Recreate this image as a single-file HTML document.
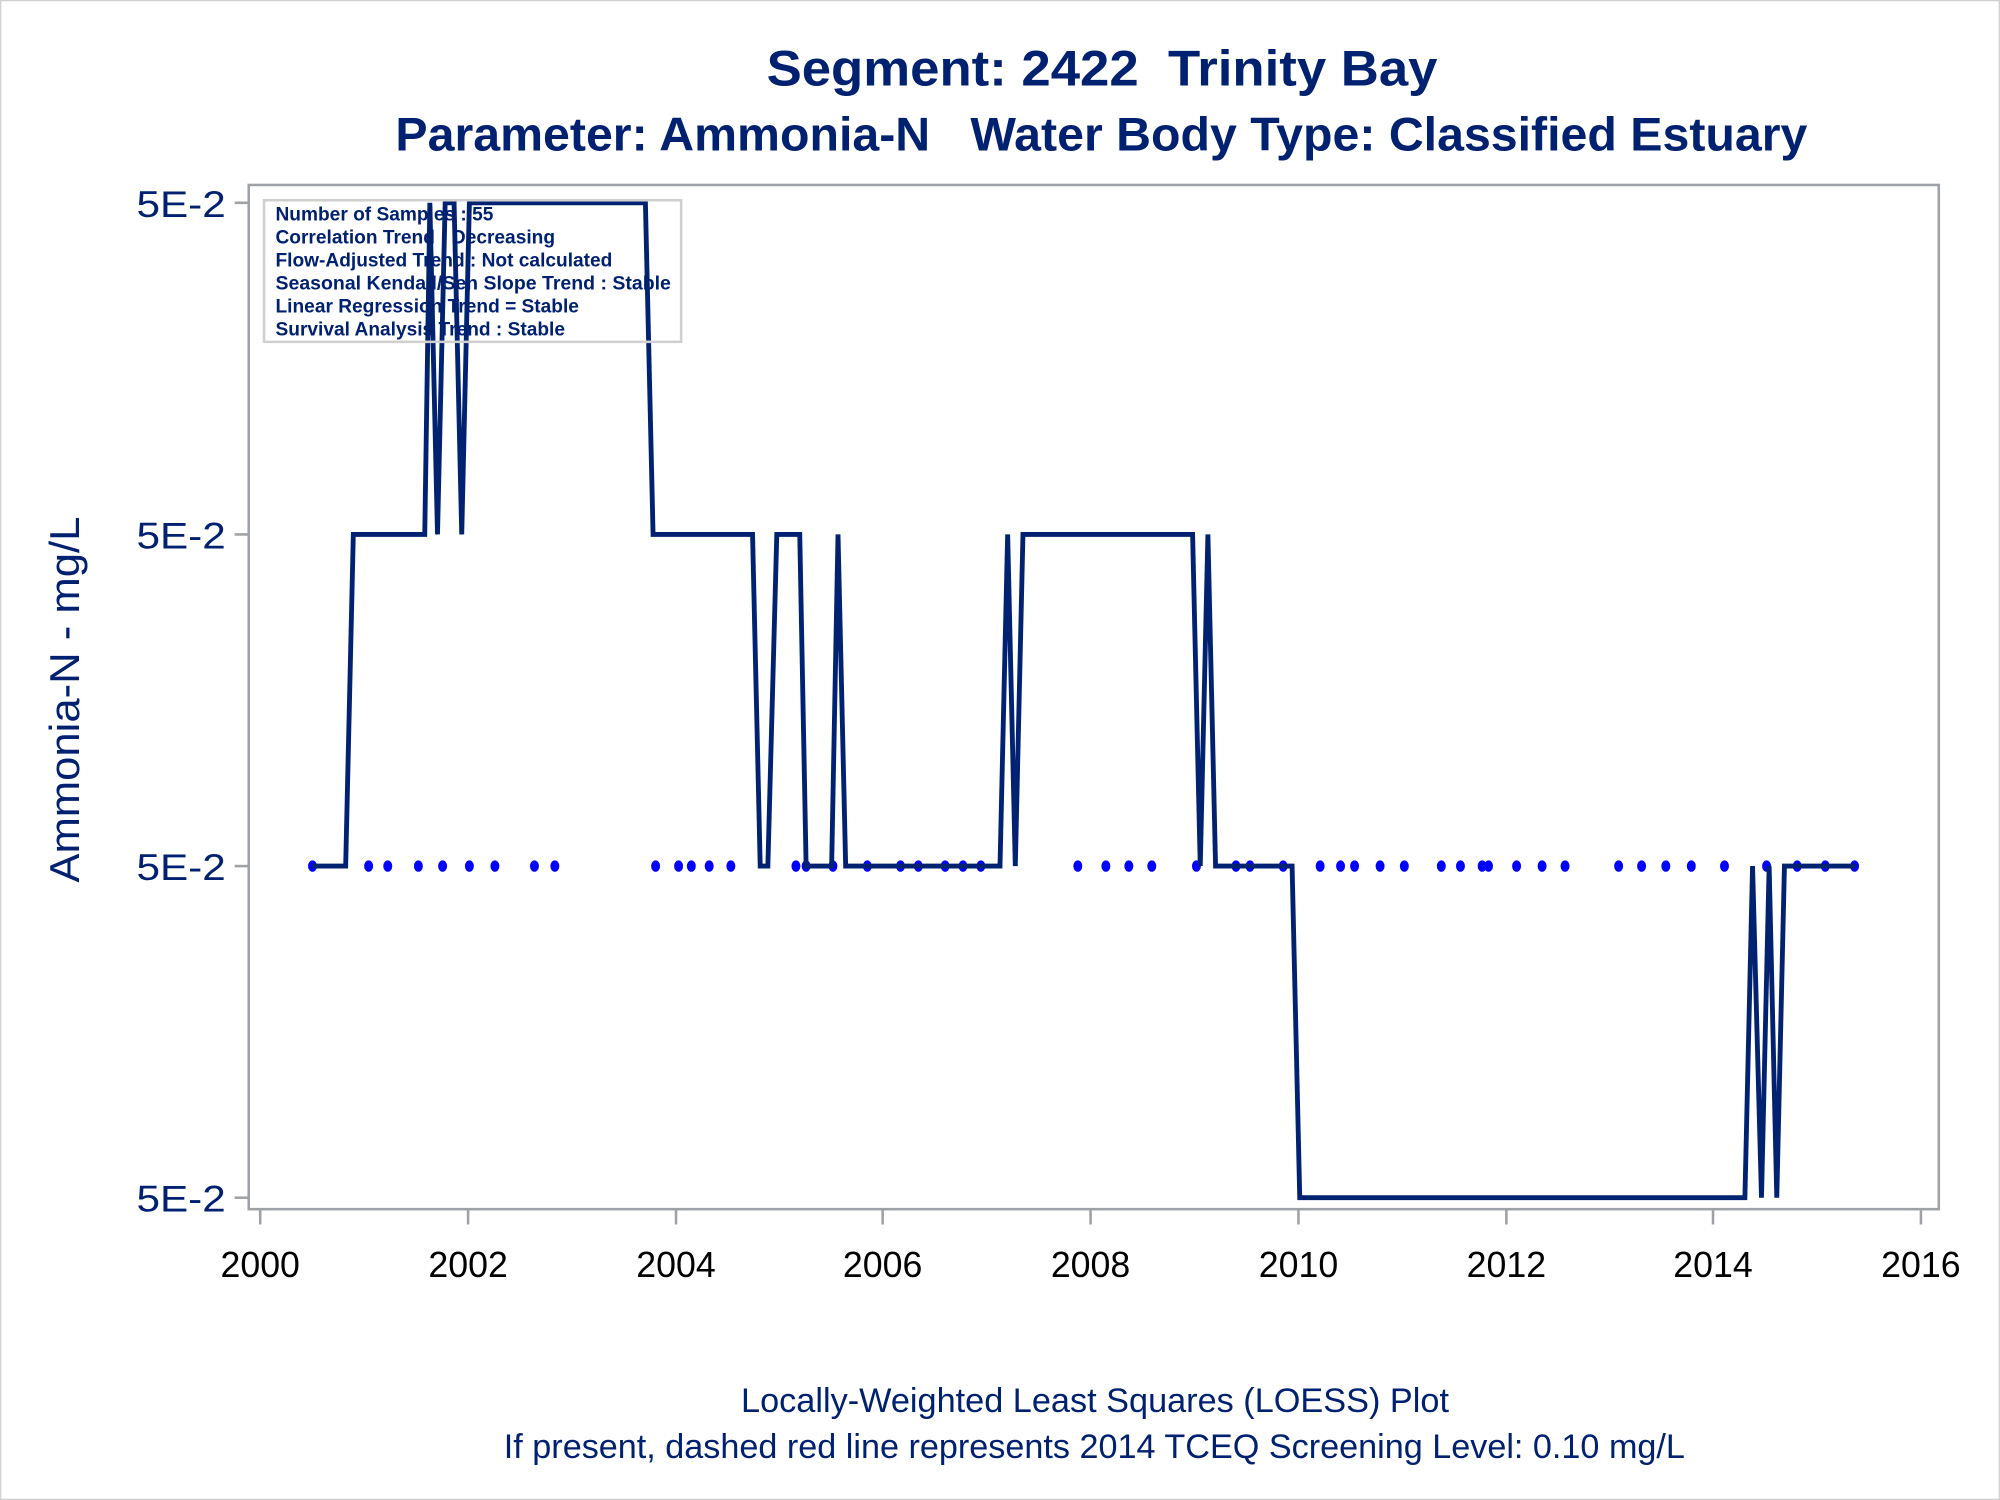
<!DOCTYPE html>
<html><head><meta charset="utf-8"><style>html,body{margin:0;padding:0;background:#fff}svg{display:block}</style></head>
<body>
<svg xmlns="http://www.w3.org/2000/svg" width="2000" height="1500" viewBox="0 0 1568 1176" font-family="Liberation Sans, sans-serif">
<rect x="0.5" y="0.5" width="1567" height="1175" fill="#fff" stroke="#d0d0d0" stroke-width="1"/>
<g fill="#002070" font-weight="bold">
<text x="601" y="67" font-size="39" textLength="526" lengthAdjust="spacingAndGlyphs" xml:space="preserve">Segment: 2422  Trinity Bay</text>
<text x="310" y="118" font-size="37" textLength="1107" lengthAdjust="spacingAndGlyphs" xml:space="preserve">Parameter: Ammonia-N   Water Body Type: Classified Estuary</text>
</g>
<rect x="195" y="145" width="1325" height="803" fill="none" stroke="#9ea1a6" stroke-width="2"/>
<g stroke="#9ea1a6" stroke-width="2">
<line x1="184" y1="159" x2="195" y2="159"/><line x1="184" y1="419" x2="195" y2="419"/><line x1="184" y1="679" x2="195" y2="679"/><line x1="184" y1="939" x2="195" y2="939"/>
<line x1="204" y1="948" x2="204" y2="960"/><line x1="367" y1="948" x2="367" y2="960"/><line x1="530" y1="948" x2="530" y2="960"/><line x1="692" y1="948" x2="692" y2="960"/><line x1="855" y1="948" x2="855" y2="960"/><line x1="1018" y1="948" x2="1018" y2="960"/><line x1="1181" y1="948" x2="1181" y2="960"/><line x1="1343" y1="948" x2="1343" y2="960"/><line x1="1506" y1="948" x2="1506" y2="960"/>
</g>
<g fill="#002070" font-size="29">
<text x="107" y="170" textLength="70" lengthAdjust="spacingAndGlyphs">5E-2</text><text x="107" y="430" textLength="70" lengthAdjust="spacingAndGlyphs">5E-2</text><text x="107" y="690" textLength="70" lengthAdjust="spacingAndGlyphs">5E-2</text><text x="107" y="950" textLength="70" lengthAdjust="spacingAndGlyphs">5E-2</text>
</g>
<g fill="#000" font-size="28" text-anchor="middle">
<text x="204" y="1001">2000</text><text x="367" y="1001">2002</text><text x="530" y="1001">2004</text><text x="692" y="1001">2006</text><text x="855" y="1001">2008</text><text x="1018" y="1001">2010</text><text x="1181" y="1001">2012</text><text x="1343" y="1001">2014</text><text x="1506" y="1001">2016</text>
</g>
<text transform="translate(62,692) rotate(-90)" fill="#002070" font-size="33" textLength="287" lengthAdjust="spacingAndGlyphs">Ammonia-N - mg/L</text>
<g fill="#0000ff">
<ellipse cx="245" cy="679" rx="3.5" ry="4.5"/><ellipse cx="289" cy="679" rx="3.5" ry="4.5"/><ellipse cx="304" cy="679" rx="3.5" ry="4.5"/><ellipse cx="328" cy="679" rx="3.5" ry="4.5"/><ellipse cx="347" cy="679" rx="3.5" ry="4.5"/><ellipse cx="368" cy="679" rx="3.5" ry="4.5"/><ellipse cx="388" cy="679" rx="3.5" ry="4.5"/><ellipse cx="419" cy="679" rx="3.5" ry="4.5"/><ellipse cx="435" cy="679" rx="3.5" ry="4.5"/><ellipse cx="514" cy="679" rx="3.5" ry="4.5"/><ellipse cx="532" cy="679" rx="3.5" ry="4.5"/><ellipse cx="542" cy="679" rx="3.5" ry="4.5"/><ellipse cx="556" cy="679" rx="3.5" ry="4.5"/><ellipse cx="573" cy="679" rx="3.5" ry="4.5"/><ellipse cx="624" cy="679" rx="3.5" ry="4.5"/><ellipse cx="632" cy="679" rx="3.5" ry="4.5"/><ellipse cx="653" cy="679" rx="3.5" ry="4.5"/><ellipse cx="680" cy="679" rx="3.5" ry="4.5"/><ellipse cx="706" cy="679" rx="3.5" ry="4.5"/><ellipse cx="720" cy="679" rx="3.5" ry="4.5"/><ellipse cx="741" cy="679" rx="3.5" ry="4.5"/><ellipse cx="755" cy="679" rx="3.5" ry="4.5"/><ellipse cx="769" cy="679" rx="3.5" ry="4.5"/><ellipse cx="845" cy="679" rx="3.5" ry="4.5"/><ellipse cx="867" cy="679" rx="3.5" ry="4.5"/><ellipse cx="885" cy="679" rx="3.5" ry="4.5"/><ellipse cx="903" cy="679" rx="3.5" ry="4.5"/><ellipse cx="938" cy="679" rx="3.5" ry="4.5"/><ellipse cx="969" cy="679" rx="3.5" ry="4.5"/><ellipse cx="980" cy="679" rx="3.5" ry="4.5"/><ellipse cx="1006" cy="679" rx="3.5" ry="4.5"/><ellipse cx="1035" cy="679" rx="3.5" ry="4.5"/><ellipse cx="1051" cy="679" rx="3.5" ry="4.5"/><ellipse cx="1062" cy="679" rx="3.5" ry="4.5"/><ellipse cx="1082" cy="679" rx="3.5" ry="4.5"/><ellipse cx="1101" cy="679" rx="3.5" ry="4.5"/><ellipse cx="1130" cy="679" rx="3.5" ry="4.5"/><ellipse cx="1145" cy="679" rx="3.5" ry="4.5"/><ellipse cx="1162" cy="679" rx="3.5" ry="4.5"/><ellipse cx="1167" cy="679" rx="3.5" ry="4.5"/><ellipse cx="1189" cy="679" rx="3.5" ry="4.5"/><ellipse cx="1209" cy="679" rx="3.5" ry="4.5"/><ellipse cx="1227" cy="679" rx="3.5" ry="4.5"/><ellipse cx="1269" cy="679" rx="3.5" ry="4.5"/><ellipse cx="1287" cy="679" rx="3.5" ry="4.5"/><ellipse cx="1306" cy="679" rx="3.5" ry="4.5"/><ellipse cx="1326" cy="679" rx="3.5" ry="4.5"/><ellipse cx="1352" cy="679" rx="3.5" ry="4.5"/><ellipse cx="1385" cy="679" rx="3.5" ry="4.5"/><ellipse cx="1409" cy="679" rx="3.5" ry="4.5"/><ellipse cx="1431" cy="679" rx="3.5" ry="4.5"/><ellipse cx="1454" cy="679" rx="3.5" ry="4.5"/>
</g>
<polyline fill="none" stroke="#002270" stroke-width="3.8" stroke-linejoin="miter" points="245,679 271,679 277,419 333,419 337,159 343,419 349,159 356,159 362,419 368,159 506,159 512,419 590,419 596,679 602,679 609,419 627,419 632,679 652,679 657,419 663,679 784,679 790,419 796,679 802,419 935,419 941,679 947,419 953,679 1013,679 1019,939 1368,939 1374,679 1381,939 1387,679 1393,939 1399,679 1455,679"/>
<rect x="207" y="157" width="327" height="111" fill="none" stroke="#cfcfcf" stroke-width="2"/>
<g fill="#002070" font-size="15" font-weight="bold">
<text x="216" y="173">Number of Samples : 55</text>
<text x="216" y="191">Correlation Trend : Decreasing</text>
<text x="216" y="209">Flow-Adjusted Trend : Not calculated</text>
<text x="216" y="227" textLength="310" lengthAdjust="spacingAndGlyphs">Seasonal Kendall/Sen Slope Trend : Stable</text>
<text x="216" y="245">Linear Regression Trend = Stable</text>
<text x="216" y="263">Survival Analysis Trend : Stable</text>
</g>
<g fill="#002070" font-size="26.5">
<text x="581" y="1107" textLength="555" lengthAdjust="spacingAndGlyphs">Locally-Weighted Least Squares (LOESS) Plot</text>
<text x="395" y="1143" textLength="926" lengthAdjust="spacingAndGlyphs">If present, dashed red line represents 2014 TCEQ Screening Level: 0.10 mg/L</text>
</g>
</svg>
</body></html>
